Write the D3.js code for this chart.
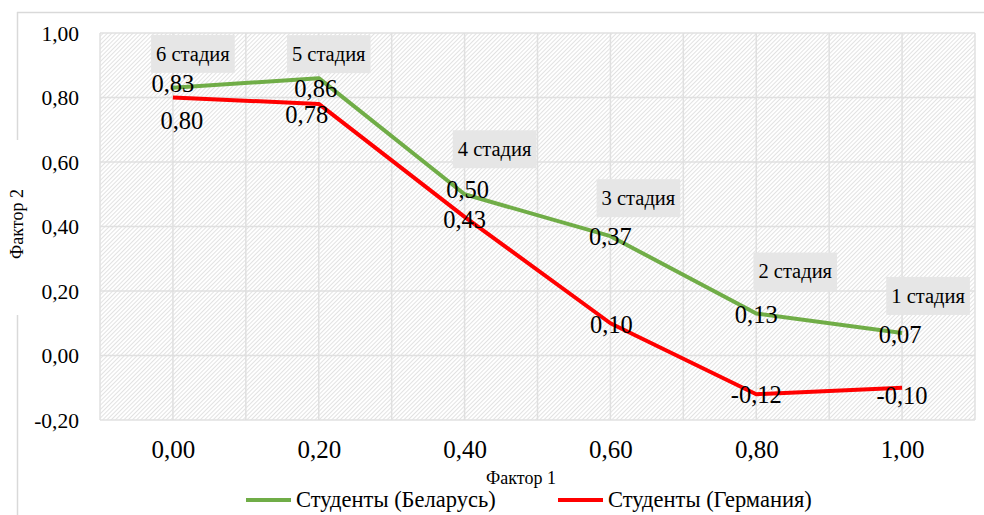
<!DOCTYPE html>
<html>
<head>
<meta charset="utf-8">
<script src="https://cdn.jsdelivr.net/npm/d3@7/dist/d3.min.js"></script>
<style>
  html, body { margin: 0; padding: 0; background: #fff; }
  svg text { font-family: "Liberation Serif", "DejaVu Serif", "Times New Roman", serif; fill: #000; }
</style>
</head>
<body>
<svg id="chart" width="984" height="515"></svg>
<script>
// Factor loadings by stage
const factor1 = [0.00, 0.20, 0.40, 0.60, 0.80, 1.00];
const belarus = [0.83, 0.86, 0.50, 0.37, 0.13, 0.07];
const germany = [0.80, 0.78, 0.43, 0.10, -0.12, -0.10];
const stages = ["6 стадия", "5 стадия", "4 стадия", "3 стадия", "2 стадия", "1 стадия"];
const yTicks = [-0.20, 0.00, 0.20, 0.40, 0.60, 0.80, 1.00];
const xTicks = [0.00, 0.20, 0.40, 0.60, 0.80, 1.00];
const seriesNames = ["Студенты (Беларусь)", "Студенты (Германия)"];

// Label placement (pixel offsets from each point)
const stageBoxOffset = [[20, -34], [10, -24], [30, -45], [28, -38], [39, -42], [26, -37]];
const belarusLabelOffset = [[0, -4], [-3, 11], [3, -4], [0, 1], [0, 2], [-2, 2]];
const germanyLabelOffset = [[9, 24], [-12, 11], [0, 3], [1, 2], [0, 1], [0, 8]];

const FONT = "'Liberation Serif', 'DejaVu Serif', serif";
const svg = d3.select("#chart");
const fmt = v => d3.format(".2f")(v).replace(".", ",").replace("−", "-");

const x = d3.scaleLinear().domain([-0.1, 1.1]).range([100, 975]);
const y = d3.scaleLinear().domain([-0.2, 1.0]).range([420, 33]);

// chart frame (light border with gap behind the axis title)
const frame = svg.append("g").attr("stroke", "#d9d9d9").attr("stroke-width", 1.5).attr("fill", "none");
frame.append("line").attr("x1", 17).attr("x2", 984).attr("y1", 12.5).attr("y2", 12.5);
frame.append("line").attr("x1", 17.5).attr("x2", 17.5).attr("y1", 12).attr("y2", 140);
frame.append("line").attr("x1", 17.5).attr("x2", 17.5).attr("y1", 315).attr("y2", 515);

// hatched plot background
const defs = svg.append("defs");
const pat = defs.append("pattern").attr("id", "hatch").attr("patternUnits", "userSpaceOnUse")
  .attr("width", 3).attr("height", 3).attr("patternTransform", "rotate(45)");
pat.append("rect").attr("width", 3).attr("height", 3).attr("fill", "#ffffff");
pat.append("line").attr("x1", 0).attr("y1", 0).attr("x2", 0).attr("y2", 3)
  .attr("stroke", "#cfcfcf").attr("stroke-width", 1.2);

svg.append("rect").attr("x", x.range()[0]).attr("y", y.range()[1])
  .attr("width", x.range()[1] - x.range()[0]).attr("height", y.range()[0] - y.range()[1])
  .attr("fill", "url(#hatch)");

// gridlines
const grid = svg.append("g").attr("stroke", "#e0e0e0").attr("stroke-width", 1.5);
grid.selectAll(".h").data(yTicks).join("line")
  .attr("x1", x.range()[0]).attr("x2", x.range()[1])
  .attr("y1", d => y(d)).attr("y2", d => y(d));
grid.selectAll(".v").data(d3.range(-0.1, 1.1001, 0.1)).join("line")
  .attr("x1", d => x(d)).attr("x2", d => x(d))
  .attr("y1", y.range()[0]).attr("y2", y.range()[1]);

// axes (text only)
const yAxis = d3.axisLeft(y).tickValues(yTicks).tickFormat(fmt).tickSize(0).tickPadding(0);
const gy = svg.append("g").attr("transform", "translate(79,0)").call(yAxis);
gy.attr("font-family", FONT);
gy.select(".domain").remove();
gy.selectAll("text").attr("font-size", 21.5).attr("fill", "#000").attr("dy", "0.33em");

const xAxis = d3.axisBottom(x).tickValues(xTicks).tickFormat(fmt).tickSize(0).tickPadding(0);
const gx = svg.append("g").attr("transform", "translate(0,450)").call(xAxis);
gx.attr("font-family", FONT);
gx.select(".domain").remove();
gx.selectAll("text").attr("font-size", 25).attr("fill", "#000").attr("dy", "0.33em");

// axis titles
svg.append("text").attr("x", 521).attr("y", 484).attr("text-anchor", "middle")
  .attr("font-size", 18).text("Фактор 1");
svg.append("text").attr("transform", "translate(23,224) rotate(-90)").attr("text-anchor", "middle")
  .attr("font-size", 18).text("Фактор 2");

// lines
const line = d3.line().x((d, i) => x(factor1[i])).y(d => y(d));
svg.append("path").datum(belarus).attr("d", line).attr("fill", "none")
  .attr("stroke", "#70ad47").attr("stroke-width", 4).attr("stroke-linejoin", "round");
svg.append("path").datum(germany).attr("d", line).attr("fill", "none")
  .attr("stroke", "#ff0000").attr("stroke-width", 4).attr("stroke-linejoin", "round");

// stage labels in grey boxes
const stageG = svg.append("g");
stages.forEach((s, i) => {
  const cx = x(factor1[i]) + stageBoxOffset[i][0];
  const cy = y(belarus[i]) + stageBoxOffset[i][1];
  const g = stageG.append("g");
  const t = g.append("text").attr("x", cx).attr("y", cy + 20.5 * 0.33)
    .attr("text-anchor", "middle").attr("font-size", 20.5).text(s);
  const w = t.node().getComputedTextLength() + 10;
  g.insert("rect", "text").attr("x", cx - w / 2).attr("y", cy - 19).attr("width", w).attr("height", 38)
    .attr("fill", "#e6e6e6");
});

// value labels
function valueLabels(vals, offs) {
  svg.append("g").selectAll("text").data(vals).join("text")
    .attr("x", (d, i) => x(factor1[i]) + offs[i][0])
    .attr("y", (d, i) => y(d) + offs[i][1] + 24 * 0.33)
    .attr("text-anchor", "middle").attr("font-size", 24.5)
    .text(d => fmt(d));
}
valueLabels(belarus, belarusLabelOffset);
valueLabels(germany, germanyLabelOffset);

// legend
const legend = svg.append("g");
const legendItems = [
  { name: seriesNames[0], color: "#70ad47", x0: 246 },
  { name: seriesNames[1], color: "#ff0000", x0: 558 }
];
legendItems.forEach(it => {
  legend.append("line").attr("x1", it.x0).attr("x2", it.x0 + 45).attr("y1", 500).attr("y2", 500)
    .attr("stroke", it.color).attr("stroke-width", 4);
  legend.append("text").attr("x", it.x0 + 50).attr("y", 507).attr("font-size", 22.5).text(it.name);
});
</script>
</body>
</html>
